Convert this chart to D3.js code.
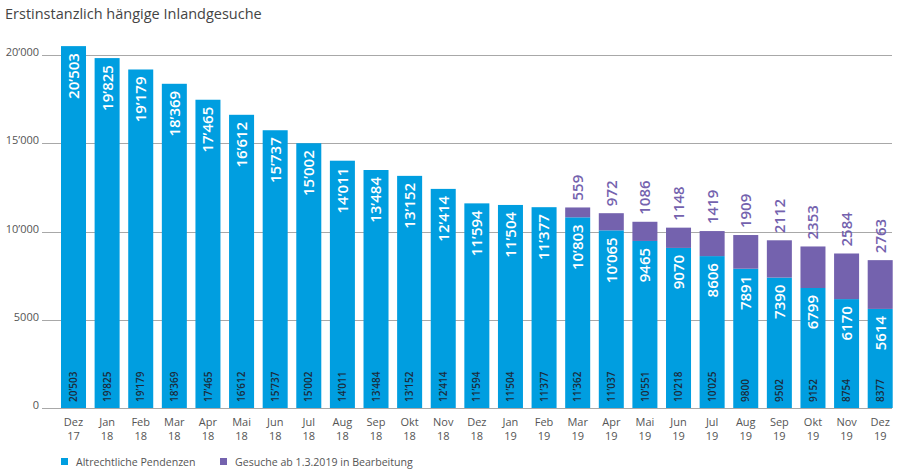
<!DOCTYPE html>
<html>
<head>
<meta charset="utf-8">
<script src="https://cdn.jsdelivr.net/npm/d3@7"></script>
<style>
  html, body { margin: 0; padding: 0; background: #fff; }
  svg { display: block; font-family: "Open Sans", "Noto Sans", sans-serif; }
</style>
</head>
<body>
<svg id="chart" width="900" height="472"></svg>
<script>
const months = ["Dez","Jan","Feb","Mar","Apr","Mai","Jun","Jul","Aug","Sep","Okt","Nov","Dez","Jan","Feb","Mar","Apr","Mai","Jun","Jul","Aug","Sep","Okt","Nov","Dez"];
const years  = ["17","18","18","18","18","18","18","18","18","18","18","18","18","19","19","19","19","19","19","19","19","19","19","19","19"];
const altrechtlich = [20503,19825,19179,18369,17465,16612,15737,15002,14011,13484,13152,12414,11594,11504,11377,10803,10065,9465,9070,8606,7891,7390,6799,6170,5614];
const neu = [0,0,0,0,0,0,0,0,0,0,0,0,0,0,0,559,972,1086,1148,1419,1909,2112,2353,2584,2763];
const yTicks = [0,5000,10000,15000,20000];
const seriesNames = ["Altrechtliche Pendenzen","Gesuche ab 1.3.2019 in Bearbeitung"];
const title = "Erstinstanzlich hängige Inlandgesuche";

const colBlue = "#009ee0";
const colPurple = "#7462ae";

const fmt = v => v >= 10000 ? (Math.floor(v/1000) + "\u2019" + String(v % 1000).padStart(3,"0")) : String(v);

const svg = d3.select("#chart");
const keys = months.map((m,i) => i);

const x = d3.scaleBand().domain(keys).range([56.7, 897]).paddingInner(0.256).paddingOuter(0.128);
const y = d3.scaleLinear().domain([0, 20000]).range([408, 55]);

// title
svg.append("text").attr("x", 5).attr("y", 19).attr("font-size", 14.5).attr("fill", "#444").text(title);

// y axis labels
const yAxis = d3.axisLeft(y).tickValues(yTicks).tickSize(0).tickFormat(fmt);
const gAxis = svg.append("g").attr("transform", "translate(41,0)").call(yAxis);
gAxis.select(".domain").remove();
gAxis.selectAll("text").attr("x", -2).attr("dy", "0.05em").attr("font-size", 11).attr("fill", "#555")
  .attr("font-family", "\"Open Sans\", sans-serif");

// gridlines
svg.append("g").selectAll("line").data(yTicks).join("line")
  .attr("x1", 42).attr("x2", 892)
  .attr("y1", d => Math.round(y(d)) + 0.5).attr("y2", d => Math.round(y(d)) + 0.5)
  .attr("stroke", "#a8a8a8").attr("stroke-width", 1);

// stacked data
const stackData = keys.map(i => ({i, a: altrechtlich[i], n: neu[i]}));
const stack = d3.stack().keys(["a","n"])(stackData);
const colors = [colBlue, colPurple];

svg.append("g").selectAll("g").data(stack).join("g")
  .attr("fill", (d, k) => colors[k])
  .selectAll("rect").data(d => d.filter(s => s[1] > s[0])).join("rect")
  .attr("x", d => x(d.data.i)).attr("width", x.bandwidth())
  .attr("y", d => y(d[1])).attr("height", d => y(d[0]) - y(d[1]));

// labels
const gl = svg.append("g");
stackData.forEach(d => {
  const cx = x(d.i) + x.bandwidth()/2;
  const yt = y(d.a) + 7;
  gl.append("text")
    .attr("transform", `translate(${cx},${yt}) rotate(-90)`)
    .attr("text-anchor", "end").attr("dy", "0.36em")
    .attr("font-size", 15).attr("font-weight", 600).attr("fill", "#fff")
    .text(fmt(d.a));
  if (d.n > 0) {
    const yp = y(d.a + d.n) - 7;
    gl.append("text")
      .attr("transform", `translate(${cx},${yp}) rotate(-90)`)
      .attr("text-anchor", "start").attr("dy", "0.36em")
      .attr("font-size", 15).attr("font-weight", 600).attr("fill", colPurple)
      .text(fmt(d.n));
  }
  gl.append("text")
    .attr("transform", `translate(${cx},${y(0) - 6}) rotate(-90)`)
    .attr("text-anchor", "start").attr("dy", "0.36em")
    .attr("font-size", 10).attr("font-weight", 600).attr("fill", "#1c2b3b")
    .text(fmt(d.a + d.n));
});

// x labels
const gx = svg.append("g").attr("font-size", 11).attr("fill", "#555").attr("text-anchor", "middle");
keys.forEach(i => {
  const cx = x(i) + x.bandwidth()/2;
  gx.append("text").attr("x", cx).attr("y", 425.5).text(months[i]);
  gx.append("text").attr("x", cx).attr("y", 439.5).text(years[i]);
});

// legend
const lg = svg.append("g").attr("font-size", 10.6).attr("fill", "#555");
const legX = [61, 220];
seriesNames.forEach((s, k) => {
  lg.append("rect").attr("x", legX[k]).attr("y", 458).attr("width", 7).attr("height", 7).attr("fill", colors[k]);
  lg.append("text").attr("x", legX[k] + 15).attr("y", 466).text(s);
});
</script>
</body>
</html>
